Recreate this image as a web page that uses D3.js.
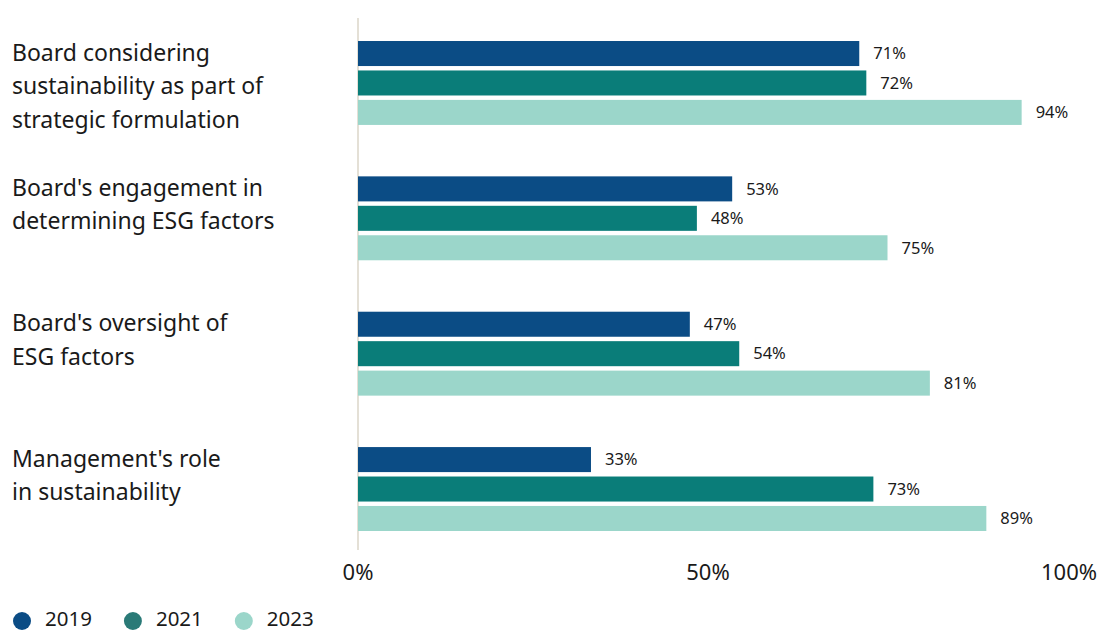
<!DOCTYPE html>
<html>
<head>
<meta charset="utf-8">
<script src="https://cdn.jsdelivr.net/npm/d3@7"></script>
<style>
  html, body { margin: 0; padding: 0; background: #fff; }
  svg { display: block; font-family: "Noto Sans", "Open Sans", sans-serif; }
</style>
</head>
<body>
<svg id="chart" width="1102" height="633"></svg>
<script>
const categories = [
  ["Board considering", "sustainability as part of", "strategic formulation"],
  ["Board's engagement in", "determining ESG factors"],
  ["Board's oversight of", "ESG factors"],
  ["Management's role", "in sustainability"]
];
const categoryKeys = ["strategy", "engagement", "oversight", "management"];
const seriesNames = ["2019", "2021", "2023"];
const values2019 = [71, 53, 47, 33];
const values2021 = [72, 48, 54, 73];
const values2023 = [94, 75, 81, 89];
const tickValues = [0, 50, 100];
const tickLabels = ["0%", "50%", "100%"];
const colors = ["#0b4c85", "#0a7d79", "#9bd6ca"];
const legendColors = ["#0b4c85", "#2a7a77", "#9bd6ca"];

const seriesValues = [values2019, values2021, values2023];

const svg = d3.select("#chart");

const x = d3.scaleLinear().domain([0, 100]).range([358, 1064]);
const y0 = d3.scaleBand().domain(categoryKeys).range([18, 554]).paddingInner(0.38).paddingOuter(0.17);
const y1 = d3.scaleBand().domain(seriesNames).range([0, y0.bandwidth()]).paddingInner(0.15);

// axis line
svg.append("line")
  .attr("x1", x(0)).attr("x2", x(0))
  .attr("y1", 18).attr("y2", 550)
  .attr("stroke", "#e4e0d6").attr("stroke-width", 2);

// bars
const groups = svg.selectAll("g.grp").data(categoryKeys).enter().append("g")
  .attr("class", "grp")
  .attr("transform", d => `translate(0,${y0(d)})`);

groups.each(function(key, ci) {
  const g = d3.select(this);
  seriesNames.forEach((s, si) => {
    const v = seriesValues[si][ci];
    g.append("rect")
      .attr("x", x(0))
      .attr("y", y1(s))
      .attr("width", x(v) - x(0))
      .attr("height", y1.bandwidth())
      .attr("fill", colors[si]);
    g.append("text")
      .attr("x", x(v) + 14)
      .attr("y", y1(s) + y1.bandwidth() / 2)
      .attr("dy", "0.35em")
      .attr("font-size", 16.5)
      .attr("fill", "#1a1a1a")
      .text(v + "%");
  });
  // category label
  const t = g.append("text")
    .attr("x", 12)
    .attr("font-size", 23)
    .attr("fill", "#1a1a1a");
  categories[ci].forEach((line, li) => {
    t.append("tspan")
      .attr("x", 12)
      .attr("y", y1(seriesNames[0]) + y1.bandwidth() / 2 - 1 + li * 33.5)
      .attr("dy", "0.35em")
      .text(line);
  });
});

// x axis tick labels
svg.selectAll("text.tick").data(tickValues).enter().append("text")
  .attr("class", "tick")
  .attr("x", d => x(d) + (d === 100 ? 5 : (d === 50 ? -3 : 0)))
  .attr("y", 580)
  .attr("text-anchor", "middle")
  .attr("font-size", 22)
  .attr("fill", "#1a1a1a")
  .text((d, i) => tickLabels[i]);

// legend
let lx = 22;
seriesNames.forEach((s, i) => {
  svg.append("circle").attr("cx", lx).attr("cy", 621).attr("r", 9).attr("fill", legendColors[i]);
  const t = svg.append("text")
    .attr("x", lx + 23)
    .attr("y", 626)
    .attr("font-size", 20.5)
    .attr("fill", "#1a1a1a")
    .text(s);
  const w = t.node().getComputedTextLength();
  lx = lx + 23 + w + 41;
});
</script>
</body>
</html>
